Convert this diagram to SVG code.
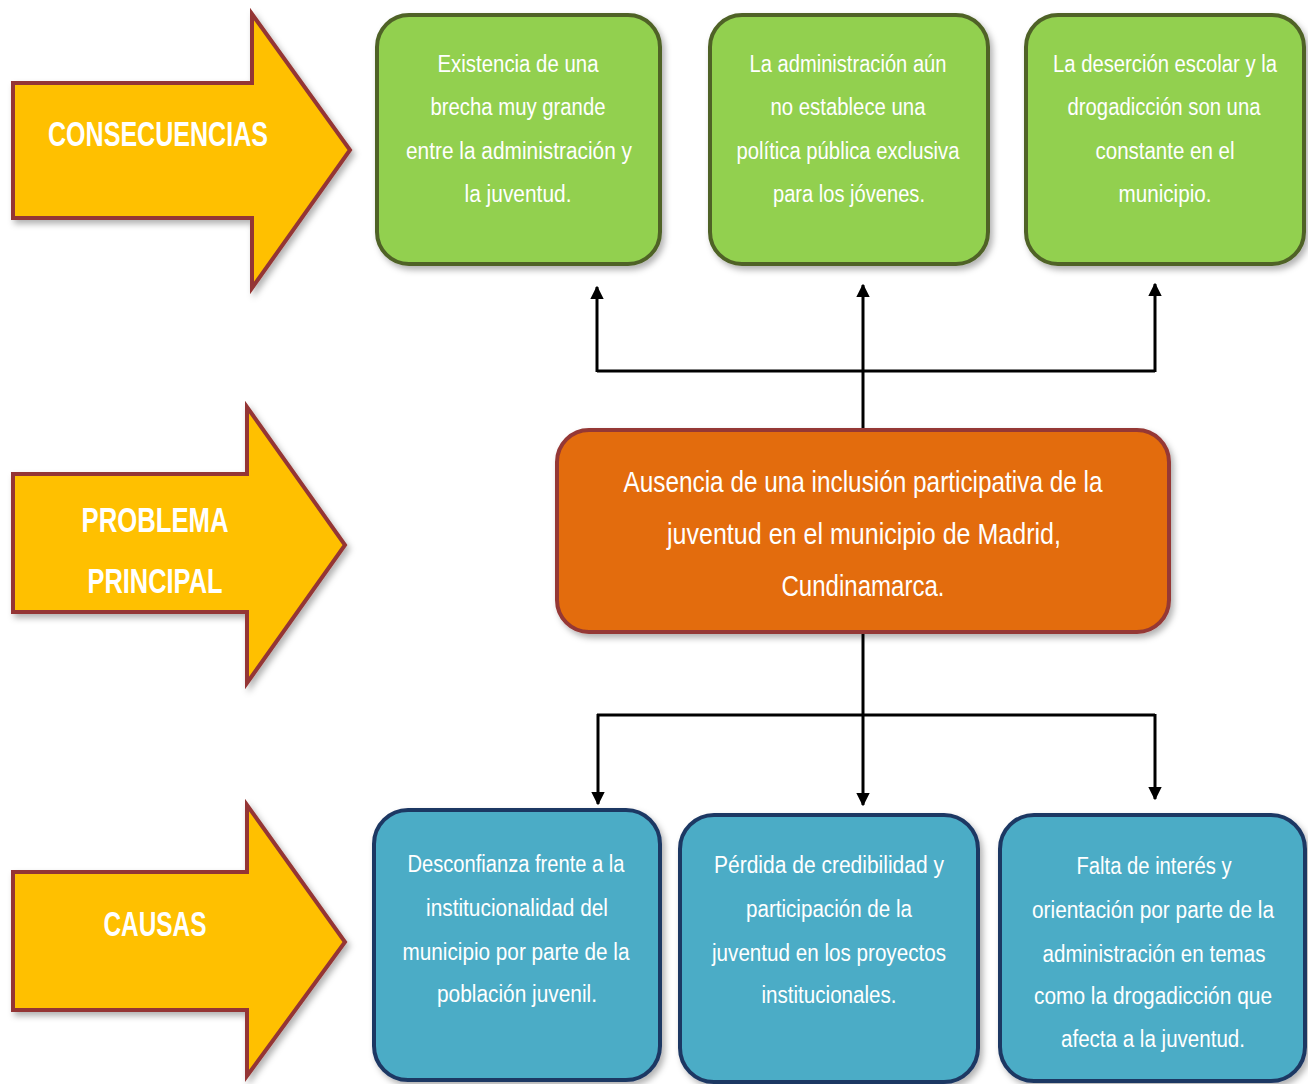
<svg xmlns="http://www.w3.org/2000/svg" width="1308" height="1084" viewBox="0 0 1308 1084">
<style>
.arrow{fill:#FFC000;stroke:#943634;stroke-width:4;stroke-linejoin:miter}
.lbl{font-family:"Liberation Sans",Arial,sans-serif;font-weight:bold;font-size:35px;fill:#fff;text-anchor:middle}
.cons{fill:#92D050;stroke:#4F6228;stroke-width:4}
.prob{fill:#E36C09;stroke:#953735;stroke-width:4}
.causa{fill:#4BACC6;stroke:#1F3864;stroke-width:4}
.t{font-family:"Liberation Sans",Arial,sans-serif;font-size:23px;fill:#fff;text-anchor:middle}
.tb{font-family:"Liberation Sans",Arial,sans-serif;font-size:30px;fill:#fff;text-anchor:middle}
.conn{fill:none;stroke:#000;stroke-width:3}
</style>
<defs>
<filter id="sh" x="-10%" y="-10%" width="130%" height="130%">
<feDropShadow dx="3" dy="4" stdDeviation="3" flood-color="#000" flood-opacity="0.3"/>
</filter>
<marker id="ah" viewBox="0 0 10 10" refX="9" refY="5" markerWidth="4.5" markerHeight="5" orient="auto" markerUnits="strokeWidth">
<path d="M0,0 L10,5 L0,10 z" fill="#000"/>
</marker>
</defs>

<g id="arrow-consecuencias">
<path class="arrow" filter="url(#sh)" d="M13,83 L252,83 L252,14 L350,150 L252,288 L252,218 L13,218 Z"/>
<text class="lbl" x="158" y="146" textLength="220" lengthAdjust="spacingAndGlyphs">CONSECUENCIAS</text>
</g>
<g id="arrow-problema">
<path class="arrow" filter="url(#sh)" d="M13,474 L247,474 L247,407 L345,545 L247,683 L247,612 L13,612 Z"/>
<text class="lbl" x="155" y="532" textLength="147" lengthAdjust="spacingAndGlyphs">PROBLEMA</text>
<text class="lbl" x="155" y="593" textLength="135" lengthAdjust="spacingAndGlyphs">PRINCIPAL</text>
</g>
<g id="arrow-causas">
<path class="arrow" filter="url(#sh)" d="M13,872 L247,872 L247,805 L345,942 L247,1076 L247,1010 L13,1010 Z"/>
<text class="lbl" x="155" y="936" textLength="103" lengthAdjust="spacingAndGlyphs">CAUSAS</text>
</g>

<g id="connectors">
<line class="conn" x1="863" y1="430" x2="863" y2="371"/>
<line class="conn" x1="597" y1="371" x2="1155" y2="371"/>
<line class="conn" x1="597" y1="372" x2="597" y2="287" marker-end="url(#ah)"/>
<line class="conn" x1="863" y1="372" x2="863" y2="285" marker-end="url(#ah)"/>
<line class="conn" x1="1155" y1="372" x2="1155" y2="284" marker-end="url(#ah)"/>
<line class="conn" x1="863" y1="632" x2="863" y2="715"/>
<line class="conn" x1="597" y1="715" x2="1155" y2="715"/>
<line class="conn" x1="598" y1="714" x2="598" y2="804" marker-end="url(#ah)"/>
<line class="conn" x1="863" y1="714" x2="863" y2="805" marker-end="url(#ah)"/>
<line class="conn" x1="1155" y1="714" x2="1155" y2="799" marker-end="url(#ah)"/>
</g>

<g id="cons-1">
<rect class="cons" filter="url(#sh)" x="377" y="15" width="283" height="249" rx="32"/>
<text class="t" x="518" y="72" textLength="161" lengthAdjust="spacingAndGlyphs">Existencia de  una</text>
<text class="t" x="518" y="115" textLength="175" lengthAdjust="spacingAndGlyphs">brecha muy grande</text>
<text class="t" x="519" y="159" textLength="226" lengthAdjust="spacingAndGlyphs">entre la administración y</text>
<text class="t" x="518" y="202" textLength="107" lengthAdjust="spacingAndGlyphs">la juventud.</text>
</g>
<g id="cons-2">
<rect class="cons" filter="url(#sh)" x="710" y="15" width="278" height="249" rx="32"/>
<text class="t" x="848" y="72" textLength="197" lengthAdjust="spacingAndGlyphs">La administración aún</text>
<text class="t" x="848" y="115" textLength="155" lengthAdjust="spacingAndGlyphs">no establece una</text>
<text class="t" x="848" y="159" textLength="223" lengthAdjust="spacingAndGlyphs">política pública exclusiva</text>
<text class="t" x="849" y="202" textLength="152" lengthAdjust="spacingAndGlyphs">para los jóvenes.</text>
</g>
<g id="cons-3">
<rect class="cons" filter="url(#sh)" x="1026" y="15" width="278" height="249" rx="32"/>
<text class="t" x="1165" y="72" textLength="224" lengthAdjust="spacingAndGlyphs">La deserción escolar  y la</text>
<text class="t" x="1164" y="115" textLength="193" lengthAdjust="spacingAndGlyphs">drogadicción son una</text>
<text class="t" x="1165" y="159" textLength="139" lengthAdjust="spacingAndGlyphs">constante en el</text>
<text class="t" x="1165" y="202" textLength="93" lengthAdjust="spacingAndGlyphs">municipio.</text>
</g>

<g id="problema">
<rect class="prob" filter="url(#sh)" x="557" y="430" width="612" height="202" rx="32"/>
<text class="tb" x="863" y="492" textLength="479" lengthAdjust="spacingAndGlyphs">Ausencia de una inclusión participativa de la</text>
<text class="tb" x="864" y="544" textLength="394" lengthAdjust="spacingAndGlyphs">juventud en el municipio de Madrid,</text>
<text class="tb" x="863" y="596" textLength="163" lengthAdjust="spacingAndGlyphs">Cundinamarca.</text>
</g>

<g id="causa-1">
<rect class="causa" filter="url(#sh)" x="374" y="810" width="286" height="270" rx="34"/>
<text class="t" x="516" y="872" textLength="217" lengthAdjust="spacingAndGlyphs">Desconfianza frente a la</text>
<text class="t" x="517" y="916" textLength="182" lengthAdjust="spacingAndGlyphs">institucionalidad del</text>
<text class="t" x="516" y="960" textLength="227" lengthAdjust="spacingAndGlyphs">municipio por parte de la</text>
<text class="t" x="517" y="1002" textLength="160" lengthAdjust="spacingAndGlyphs">población juvenil.</text>
</g>
<g id="causa-2">
<rect class="causa" filter="url(#sh)" x="680" y="815" width="298" height="267" rx="34"/>
<text class="t" x="829" y="873" textLength="230" lengthAdjust="spacingAndGlyphs">Pérdida de credibilidad  y</text>
<text class="t" x="829" y="917" textLength="166" lengthAdjust="spacingAndGlyphs">participación de la</text>
<text class="t" x="829" y="961" textLength="234" lengthAdjust="spacingAndGlyphs">juventud en los proyectos</text>
<text class="t" x="829" y="1003" textLength="135" lengthAdjust="spacingAndGlyphs">institucionales.</text>
</g>
<g id="causa-3">
<rect class="causa" filter="url(#sh)" x="1000" y="815" width="305" height="266" rx="34"/>
<text class="t" x="1154" y="874" textLength="155" lengthAdjust="spacingAndGlyphs">Falta de interés y</text>
<text class="t" x="1153" y="918" textLength="242" lengthAdjust="spacingAndGlyphs">orientación por parte de la</text>
<text class="t" x="1154" y="962" textLength="223" lengthAdjust="spacingAndGlyphs">administración en temas</text>
<text class="t" x="1153" y="1004" textLength="238" lengthAdjust="spacingAndGlyphs">como  la drogadicción que</text>
<text class="t" x="1153" y="1047" textLength="184" lengthAdjust="spacingAndGlyphs">afecta a la juventud.</text>
</g>
</svg>
